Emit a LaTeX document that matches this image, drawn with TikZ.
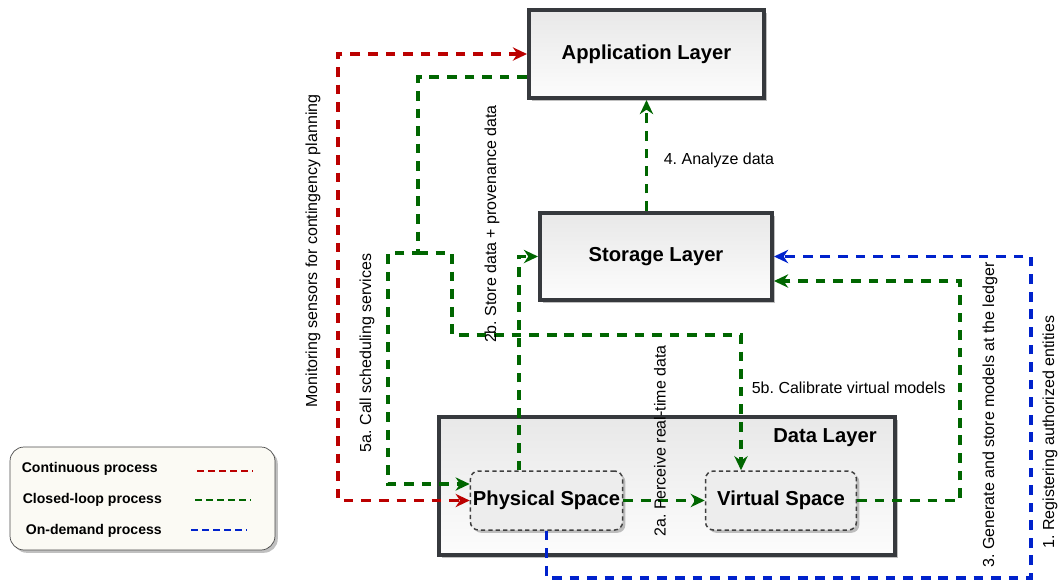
\documentclass[tikz,border=0pt]{standalone}
\usepackage{fontspec}
\setmainfont{Liberation Sans}
\usetikzlibrary{arrows.meta,shadows}
\definecolor{flowred}{HTML}{BB0000}
\definecolor{flowgreen}{HTML}{006600}
\definecolor{flowblue}{HTML}{0022CC}
\definecolor{frame}{HTML}{36393D}
\definecolor{legendfill}{HTML}{FBFAF4}
\frenchspacing
\begin{document}
\begin{tikzpicture}
[
 x=0.02cm, y=-0.02cm,
 inner sep=0.5mm,
 >={Stealth[length=8pt,width=7.5pt,inset=2.5pt]},
 SHADOW/.style={drop shadow={shadow xshift=1.6pt, shadow yshift=-1.6pt, fill=black!45, opacity=0.55}},
 LAYER/.style={rectangle, draw=frame, line width=2.3pt, top color=black!9, bottom color=black!1, SHADOW, font=\fontsize{11.5}{14}\selectfont\bfseries},
 SPACE/.style={rectangle, rounded corners=0.16cm, draw=black!75, line width=0.85pt, dash pattern=on 2.4pt off 1.8pt, fill=black!7, SHADOW, minimum width=3.02cm, minimum height=1.18cm, font=\fontsize{11.5}{14}\selectfont\bfseries},
 LEGEND/.style={rectangle, rounded corners=0.28cm, draw=black!70, thin, fill=legendfill, SHADOW, minimum width=5.3cm, minimum height=2.06cm},
 LEGTEXT/.style={anchor=west, font=\fontsize{8}{10}\selectfont\bfseries},
 LABEL/.style={font=\fontsize{9.1}{11}\selectfont},
 FLOW/.style={line width=1.8pt, dash pattern=on 5.5pt off 4.5pt},
 REDFLOW/.style={FLOW, draw=flowred},
 GREENFLOW/.style={FLOW, draw=flowgreen},
 BLUEFLOW/.style={FLOW, draw=flowblue},
 KEYLINE/.style={line width=1.1pt, dash pattern=on 3.7pt off 2.6pt},
 ]
%
\useasboundingbox (0,0) rectangle (1063,583);
%
\node [LAYER, minimum width=4.7cm, minimum height=1.76cm]   (app)   at (646.5, 54)  {Application Layer};
\node [LAYER, minimum width=4.64cm, minimum height=1.74cm]  (store) at (656, 256.5) {Storage Layer};
\node [LAYER, minimum width=9.12cm, minimum height=2.76cm]  (data)  at (667, 486)   {};
\node [font=\fontsize{11.5}{14}\selectfont\bfseries]        (datalbl) at (825, 438) {Data Layer};
%
\node [SPACE]  (phys)  at (546.5, 500.5)  {Physical Space};
\node [SPACE]  (virt)  at (781, 500.5)    {Virtual Space};
%
\node [LEGEND]  (legend)  at (142.5, 498.5)  {};
\node [LEGTEXT]  (kcont)  at (19, 469)  {Continuous process};
\node [LEGTEXT]  (kclos)  at (20, 500)  {Closed-loop process};
\node [LEGTEXT]  (kdem)   at (23, 531)  {On-demand process};
\coordinate (kr1) at (197,471);  \coordinate (kr2) at (253,471);
\coordinate (kg1) at (195,500);  \coordinate (kg2) at (251,500);
\coordinate (kb1) at (191,530);  \coordinate (kb2) at (247,530);
\draw [KEYLINE, draw=flowred]    (kr1) -- (kr2);
\draw [KEYLINE, draw=flowgreen]  (kg1) -- (kg2);
\draw [KEYLINE, draw=flowblue]   (kb1) -- (kb2);
%
% corners of the flows
\coordinate (r1) at (338,54);
\coordinate (g1) at (418,77);
\coordinate (g2) at (418,253);
\coordinate (g3) at (388,253);
\coordinate (g4) at (388,484);
\coordinate (g5) at (452,253);
\coordinate (g6) at (452,335);
\coordinate (g7) at (741,335);
\coordinate (s1) at (519,256.5);
\coordinate (c3) at (960,281);
\coordinate (b1) at (1031,578);
%
\draw [REDFLOW, <->]  (app.west) -- (r1) |- (phys.west);
%
\draw [GREENFLOW, ->]  (app.west |- g1) -- (g1) -- (g2) -- (g3) -- (g4) -- (phys.west |- g4);
\draw [GREENFLOW, ->]  (g2) -- (g5) -- (g6) -- (g7) -- (g7 |- virt.north);
\draw [GREENFLOW, ->]  (s1 |- phys.north) -- (s1) -- (store.west);
\draw [GREENFLOW, ->]  (phys.east) -- (virt.west);
\draw [GREENFLOW, ->]  (app.south |- store.north) -- (app.south);
\draw [GREENFLOW, ->]  (virt.east) -| (c3) -- (store.east |- c3);
%
\draw [BLUEFLOW, ->]  (phys.south) |- (b1) |- (store.east);
%
\node [LABEL, rotate=90]    (lmon)  at (313, 251)  {Monitoring sensors for contingency planning};
\node [LABEL, rotate=90]    (l5a)   at (367, 353)  {5a. Call scheduling services};
\node [LABEL, rotate=90]    (l2b)   at (492, 224)  {2b. Store data + provenance data};
\node [LABEL, anchor=west]  (l4)    at (661, 160)  {4. Analyze data};
\node [LABEL, anchor=west]  (l5b)   at (749, 388)  {5b. Calibrate virtual models};
\node [LABEL, rotate=90]    (l2a)   at (660, 441)  {2a. Perceive real-time data};
\node [LABEL, rotate=90]    (l3)    at (990, 415)  {3. Generate and store models at the ledger};
\node [LABEL, rotate=90]    (l1)    at (1050, 432) {1. Registering authorized entities};
%
\end{tikzpicture}
\end{document}
